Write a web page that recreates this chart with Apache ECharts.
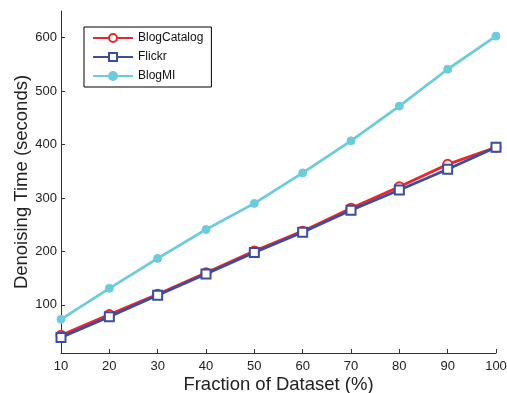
<!DOCTYPE html>
<html>
<head>
<meta charset="utf-8">
<script src="https://cdn.jsdelivr.net/npm/echarts@6/dist/echarts.min.js"></script>
<style>html,body{margin:0;padding:0;background:#fff}#c{width:507px;height:393px}</style>
</head>
<body>
<div id="c"></div>
<script>
var fractions = [10, 20, 30, 40, 50, 60, 70, 80, 90, 100];
var blogCatalog = [43, 82, 120, 160, 201, 238, 281, 321, 363, 395];
var flickr = [39, 78, 118, 158, 198, 236, 277, 315, 354, 395];
var blogMI = [73, 131, 187, 241, 290, 347, 407, 472, 541, 603];
var yTicks = [100, 200, 300, 400, 500, 600];

function pairs(v) { return fractions.map(function (x, i) { return [x, v[i]]; }); }

var font = 'Liberation Sans, Arial, sans-serif';
var chart = echarts.init(document.getElementById('c'));
chart.setOption({
  animation: false,
  backgroundColor: '#fff',
  grid: { left: 61, right: 11, top: 11, bottom: 40, outerBoundsMode: 'none', containLabel: false },
  legend: {
    left: 84, top: 27,
    orient: 'vertical',
    itemWidth: 40, itemHeight: 10, itemGap: 7,
    padding: [5, 8, 5, 8],
    borderColor: '#000', borderWidth: 1,
    backgroundColor: '#fff',
    textStyle: { fontFamily: font, fontSize: 12, color: '#111' },
    data: ['BlogCatalog', 'Flickr', 'BlogMI']
  },
  xAxis: {
    type: 'value', min: 10, max: 100, interval: 10,
    name: 'Fraction of Dataset (%)', nameLocation: 'middle', nameGap: 22, nameMoveOverlap: false,
    nameTextStyle: { fontFamily: font, fontSize: 18.5, color: '#222' },
    axisLine: { lineStyle: { color: '#333', width: 1 } },
    axisTick: { inside: true, length: 4, lineStyle: { color: '#333' } },
    axisLabel: { fontFamily: font, fontSize: 13, color: '#222', margin: 7 },
    splitLine: { show: false }
  },
  yAxis: {
    type: 'value', min: 10, max: 650,
    name: 'Denoising Time (seconds)', nameLocation: 'middle', nameGap: 30, nameMoveOverlap: false,
    nameTextStyle: { fontFamily: font, fontSize: 18.5, color: '#222' },
    axisLine: { show: true, lineStyle: { color: '#333', width: 1 } },
    axisTick: { show: true, inside: true, length: 4, lineStyle: { color: '#333' }, customValues: yTicks },
    axisLabel: { fontFamily: font, fontSize: 13, color: '#222', margin: 4, customValues: yTicks },
    splitLine: { show: false }
  },
  series: [
    {
      name: 'BlogMI', type: 'line', data: pairs(blogMI),
      symbol: 'circle', symbolSize: 8,
      lineStyle: { color: '#6dcbdb', width: 2.8 },
      itemStyle: { color: '#6dcbdb', borderColor: '#6dcbdb', borderWidth: 1 }
    },
    {
      name: 'BlogCatalog', type: 'line', data: pairs(blogCatalog),
      symbol: 'emptyCircle', symbolSize: 9,
      lineStyle: { color: '#e8262b', width: 2.8 },
      itemStyle: { color: '#e8262b', borderColor: '#e8262b', borderWidth: 2.5 }
    },
    {
      name: 'Flickr', type: 'line', data: pairs(flickr),
      symbol: 'emptyRect', symbolSize: 9,
      lineStyle: { color: '#3a4d9f', width: 2.8 },
      itemStyle: { color: '#3a4d9f', borderColor: '#3a4d9f', borderWidth: 3 }
    }
  ]
});
</script>
</body>
</html>
